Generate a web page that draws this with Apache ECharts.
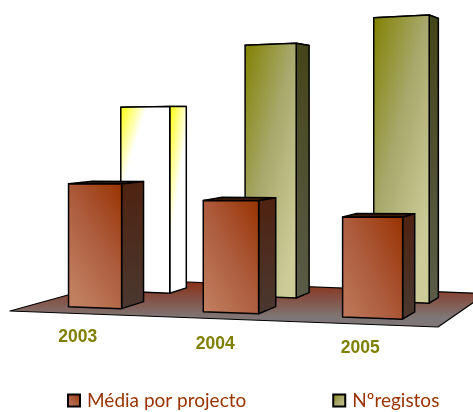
<!DOCTYPE html>
<html><head><meta charset="utf-8">
<style>html,body{margin:0;padding:0;background:#fff}#c{width:473px;height:412px}</style>
<script src="https://cdn.jsdelivr.net/npm/echarts@6/dist/echarts.min.js"></script>
</head><body><div id="c"></div>
<script>
const categories = ['2003', '2004', '2005'];
const mediaPorProjecto = [125, 109, 94];
const nRegistos = [203, 267, 290];
const seriesNames = ['Média por projecto', 'Nºregistos'];

// Perspective of the floor: homography of the unit square (u along categories, v in depth)
const H = {a:436.33,b:136.3,c:10,d:22.22,e:18.75,f:311,g:0.01902,h:0.1798};
function project(u, v) {
  const den = H.g*u + H.h*v + 1;
  return {x:(H.a*u + H.b*v + H.c)/den, y:(H.d*u + H.e*v + H.f)/den, w:1/(1 + H.h*v - 0.12*u)};
}
const G = {left:10, top:0, width:428, height:350};
// Per-category perspective tweaks (shift of band centre and band fraction used, in floor units)
const U_SHIFT = [-0.0147, -0.0235, -0.0143];
const U_WIDTH = [0.126, 0.133, 0.146];
const DEPTH = {front:[0.16,0.365], back:[0.63,0.81]};
const LABEL_OFFSET = [[3,24],[-3,25],[0,24]];
const LABEL_SHIFT = -0.018;

const LG = (x,y,x2,y2,a,b,m) => new echarts.graphic.LinearGradient(x,y,x2,y2,
  m ? [{offset:0,color:a},{offset:0.5,color:m},{offset:1,color:b}] : [{offset:0,color:a},{offset:1,color:b}]);
const RUST = {
  face: () => LG(1,0,-0.57,0.43,'#993300','#c08060','#ad5c3e'),
  side: () => LG(0,0,0.2,1,'#4f2210','#4a3830'),
  icon: () => LG(1,0,0,1,'#993300','#c08060','#ad5c3e')
};
const OLIVE = {
  face: () => LG(0,0,1.8,0.09,'#808000','#cccc99','#a8a86c'),
  side: () => LG(0,0,0.2,1,'#45451a','#5a5c48'),
  icon: () => LG(0,0,1,1,'#808000','#cccc99','#a8a86c')
};
const YELLOW = {
  face: () => LG(0,0,0.49,0.041,'#ffff00','#ffffff'),
  side: () => LG(0,0,1.15,0.016,'#ffff00','#ffffff')
};

function barRenderer(depth, paletteFor) {
  return function (params, api) {
    const i = api.value(0);
    const base = api.coord([i, 0]);
    const top = api.coord([i, api.value(1)]);
    const h = base[1] - top[1];
    const uc = (base[0] - G.left)/G.width + U_SHIFT[i];
    const u0 = uc - U_WIDTH[i]/2, u1 = uc + U_WIDTH[i]/2;
    const P = (u,v) => { const p = project(u,v); return {b:[p.x,p.y], t:[p.x,p.y-h*p.w]}; };
    const fl = P(u0,depth[0]), fr = P(u1,depth[0]), br = P(u1,depth[1]), bl = P(u0,depth[1]);
    const pal = paletteFor(i);
    const stroke = {stroke:'#000', lineWidth:1.5, lineJoin:'round'};
    const poly = (pts, fill) => ({type:'polygon', shape:{points:pts}, style:Object.assign({fill}, stroke)});
    return {type:'group', children:[
      poly([fl.t,fr.t,br.t,bl.t], '#3a1a0a'),
      poly([fr.t,br.t,br.b,fr.b], pal.side()),
      poly([fl.t,fr.t,fr.b,fl.b], pal.face())
    ]};
  };
}

const chart = echarts.init(document.getElementById('c'), null, {renderer:'canvas'});
chart.setOption({
  animation:false,
  backgroundColor:'#fff',
  grid:G,
  xAxis:{type:'category', data:categories, show:false},
  yAxis:{type:'value', min:0, max:350, show:false},
  legend:{
    data:seriesNames, left:62, top:386, icon:'rect', itemWidth:12, itemHeight:12, itemGap:86,
    textStyle:{color:'#993300', fontFamily:'Lato', fontSize:19, padding:[0,0,0,2]}
  },
  series:[
    {type:'custom', name:'floor', silent:true, data:[[0,0]], encode:{x:0,y:1},
     renderItem(){
       const pts=[[0,0],[1,0],[1,1],[0,1]].map(([u,v])=>{const p=project(u,v);return [p.x,p.y];});
       return {type:'polygon', shape:{points:pts},
         style:{fill:LG(0,0,0,0.8,'#8a2a10','#7f7777'), stroke:'#000', lineWidth:1.2, lineJoin:'round'}};
     }},
    {type:'custom', name:seriesNames[1], data:nRegistos.map((v,i)=>[i,v]), encode:{x:0,y:1},
     itemStyle:{color:OLIVE.icon(), borderColor:'#000', borderWidth:1.5},
     renderItem:barRenderer(DEPTH.back, i => i===0 ? YELLOW : OLIVE)},
    {type:'custom', name:seriesNames[0], data:mediaPorProjecto.map((v,i)=>[i,v]), encode:{x:0,y:1},
     itemStyle:{color:RUST.icon(), borderColor:'#000', borderWidth:1.5},
     renderItem:barRenderer(DEPTH.front, () => RUST)},
    {type:'custom', name:'labels', silent:true, data:categories.map((c,i)=>[i,0,c]), encode:{x:0,y:1},
     renderItem(params, api){
       const i=api.value(0), base=api.coord([i,0]);
       const p=project((base[0]-G.left)/G.width+LABEL_SHIFT,0);
       return {type:'text', style:{text:categories[i], x:p.x+LABEL_OFFSET[i][0], y:p.y+LABEL_OFFSET[i][1],
         align:'center', verticalAlign:'middle', fill:'#808000', font:'bold 17.5px "Liberation Sans"'}};
     }}
  ]
});
</script></body></html>
